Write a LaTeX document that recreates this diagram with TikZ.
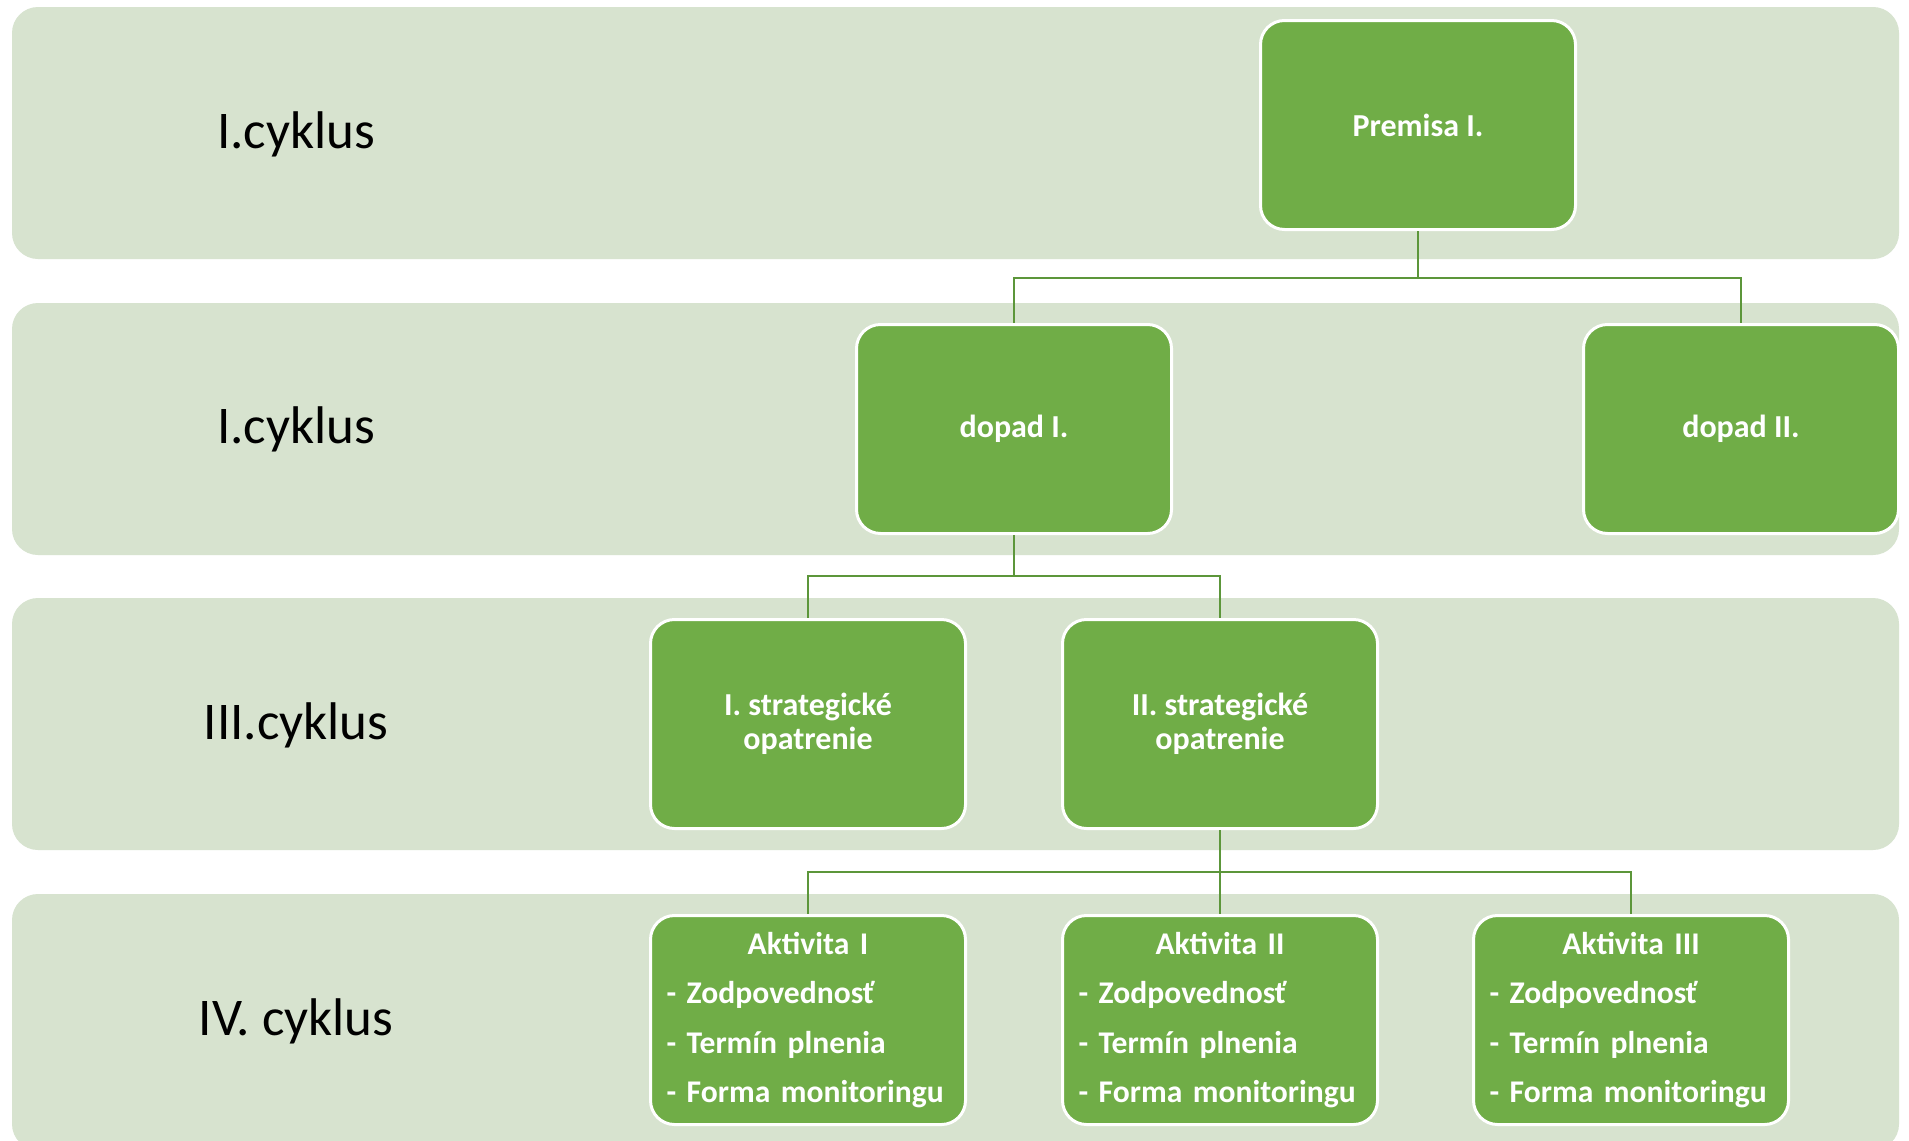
\documentclass[tikz,border=0pt]{standalone}
\usepackage{fontspec}
\setmainfont{Carlito}
\definecolor{bandc}{RGB}{215,227,207}
\definecolor{boxg}{RGB}{112,173,71}
\definecolor{lineg}{RGB}{92,150,58}
\begin{document}
\begin{tikzpicture}[x=0.5pt,y=-0.5pt,
  bandbox/.style={fill=bandc, draw=none, rounded corners=13pt},
  gbox/.style={fill=boxg, draw=white, line width=1.5pt, rounded corners=12pt,
    minimum width=157.5pt, minimum height=104.5pt, inner sep=0pt, text=white,
    font=\bfseries\fontsize{16}{17}\selectfont, align=center},
  abox/.style={gbox, font=\bfseries\fontsize{15.8}{24.6}\selectfont, align=left, text width=141.5pt},
  cyc/.style={font=\fontsize{26.5}{30}\selectfont, anchor=base, inner sep=0pt},
  conn/.style={draw=lineg, line width=1.3pt}]
\useasboundingbox (0,0) rectangle (1909,1140);
\clip (0,0) rectangle (1909,1140);
\fill[white] (0,0) rectangle (1909,1140);
% bands
\path[bandbox] (12,7) rectangle (1899,259);
\path[bandbox] (12,303) rectangle (1899,555);
\path[bandbox] (12,598) rectangle (1899,850);
\path[bandbox] (12,894) rectangle (1899,1150);
% cycle labels
\node[cyc] (c1) at (296,148) {I.cyklus};
\node[cyc] (c2) at (296,443) {I.cyklus};
\node[cyc] (c3) at (296,739) {III.cyklus};
\node[cyc] (c4) at (296,1035) {IV. cyklus};
% boxes
\node[gbox] (prem) at (1418,125) {Premisa I.};
\node[gbox] (d1) at (1014,429) {dopad I.};
\node[gbox] (d2) at (1741,429) {dopad II.};
\node[gbox] (s1) at (808,724) {I. strategické\\opatrenie};
\node[gbox] (s2) at (1220,724) {II. strategické\\opatrenie};
\node[abox] (a1) at (808,1020) {\makebox[141.5pt]{Aktivita I}\\- Zodpovednosť\\- Termín plnenia\\- Forma monitoringu};
\node[abox] (a2) at (1220,1020) {\makebox[141.5pt]{Aktivita II}\\- Zodpovednosť\\- Termín plnenia\\- Forma monitoringu};
\node[abox] (a3) at (1631,1020) {\makebox[141.5pt]{Aktivita III}\\- Zodpovednosť\\- Termín plnenia\\- Forma monitoringu};
% connectors
\coordinate (j1) at (1418,278);
\coordinate (j2) at (1014,576);
\coordinate (j3) at (1220,872);
\draw[conn] (prem.south) -- (j1) -| (d1.north);
\draw[conn] (j1) -| (d2.north);
\draw[conn] (d1.south) -- (j2) -| (s1.north);
\draw[conn] (j2) -| (s2.north);
\draw[conn] (s2.south) -- (j3) -| (a1.north);
\draw[conn] (j3) -| (a3.north);
\draw[conn] (j3) -- (a2.north);
\end{tikzpicture}
\end{document}
